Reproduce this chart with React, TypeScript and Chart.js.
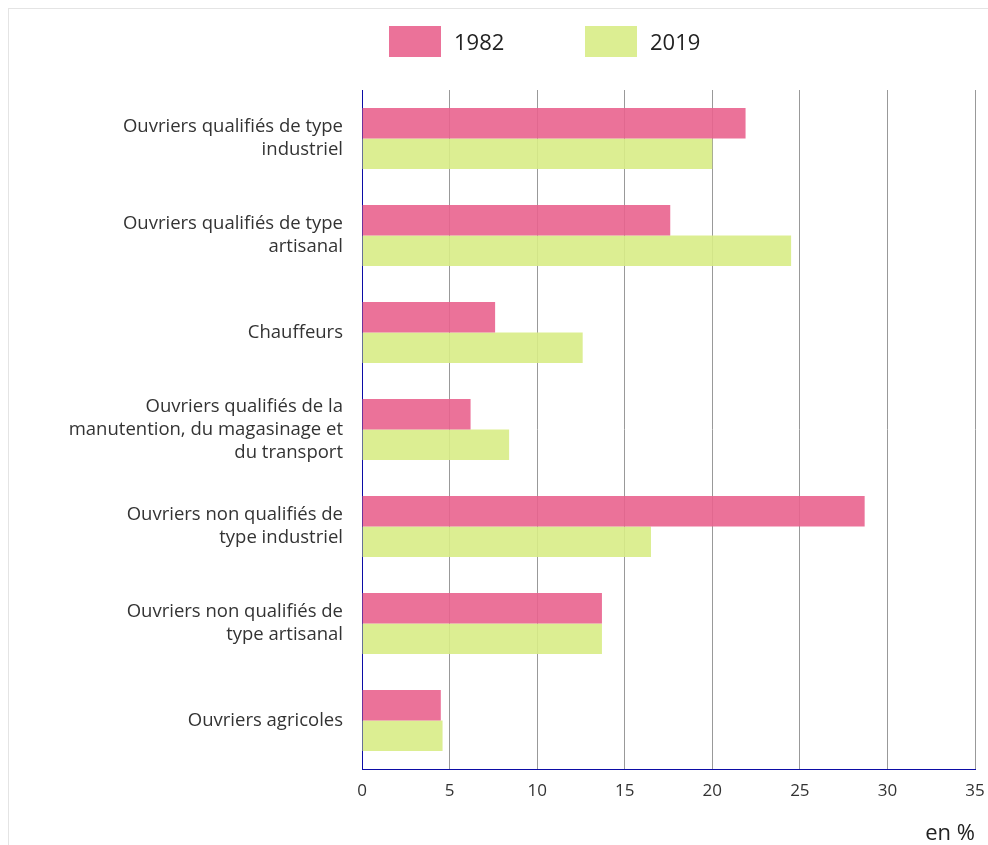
import React, { useEffect, useRef } from "react";
import { Chart, registerables } from "chart.js";

Chart.register(...registerables);

const categories: string[][] = [
  ["Ouvriers qualifiés de type", "industriel"],
  ["Ouvriers qualifiés de type", "artisanal"],
  ["Chauffeurs"],
  ["Ouvriers qualifiés de la", "manutention, du magasinage et", "du transport"],
  ["Ouvriers non qualifiés de", "type industriel"],
  ["Ouvriers non qualifiés de", "type artisanal"],
  ["Ouvriers agricoles"],
];
const values1982: number[] = [21.9, 17.6, 7.6, 6.2, 28.7, 13.7, 4.5];
const values2019: number[] = [20.0, 24.5, 12.6, 8.4, 16.5, 13.7, 4.6];
const seriesNames: string[] = ["1982", "2019"];
const xTicks: number[] = [0, 5, 10, 15, 20, 25, 30, 35];
const unitLabel = "en %";

const PINK = "rgba(233, 99, 142, 0.9)";
const GREEN = "rgba(216, 236, 134, 0.9)";
const AXIS_BLUE = "#0c0ca6";
const FONT = "'Open Sans', 'Noto Sans', sans-serif";

export default function App() {
  const ref = useRef<HTMLCanvasElement | null>(null);

  useEffect(() => {
    if (!ref.current) return;
    const chart = new Chart(ref.current, {
      type: "bar",
      data: {
        labels: categories,
        datasets: [
          {
            label: seriesNames[0],
            data: values1982,
            backgroundColor: PINK,
            borderWidth: 0,
            categoryPercentage: 0.63,
            barPercentage: 1.0,
          },
          {
            label: seriesNames[1],
            data: values2019,
            backgroundColor: GREEN,
            borderWidth: 0,
            categoryPercentage: 0.63,
            barPercentage: 1.0,
          },
        ],
      },
      options: {
        indexAxis: "y",
        responsive: false,
        animation: false,
        maintainAspectRatio: false,
        layout: { padding: { top: 90, right: 13, left: 0, bottom: 0 } },
        plugins: {
          legend: { display: false },
          tooltip: { enabled: false },
        },
        scales: {
          x: {
            min: 0,
            max: 35,
            afterBuildTicks: (axis: any) => {
              axis.ticks = xTicks.map((v) => ({ value: v }));
            },
            afterFit: (axis: any) => {
              axis.height = 76;
              axis.paddingLeft = 0;
              axis.paddingRight = 0;
            },
            grid: {
              display: true,
              drawTicks: false,
              color: (ctx: any) =>
                ctx.tick && ctx.tick.value === 0 ? "rgba(0,0,0,0)" : "#999999",
              lineWidth: 1,
            },
            border: { display: true, color: AXIS_BLUE, width: 1 },
            ticks: {
              padding: 12,
              color: "#333333",
              font: { family: FONT, size: 17 },
              maxRotation: 0,
            },
            title: {
              display: true,
              text: unitLabel,
              align: "end",
              color: "#222222",
              font: { family: FONT, size: 22 },
              padding: { top: 4, bottom: -2 },
            },
          },
          y: {
            afterFit: (axis: any) => {
              axis.width = 362;
            },
            grid: { display: false, drawTicks: false },
            border: { display: true, color: AXIS_BLUE, width: 1 },
            ticks: {
              padding: 19,
              color: "#333333",
              font: { family: FONT, size: 18.5, lineHeight: 1.25 },
            },
          },
        },
      },
    } as any);
    return () => chart.destroy();
  }, []);

  const legendItem = (left: number, color: string, text: string) => (
    <div
      style={{
        position: "absolute",
        left,
        top: 26,
        height: 31,
        display: "flex",
        alignItems: "center",
      }}
    >
      <div style={{ width: 52, height: 31, background: color }} />
      <span
        style={{
          marginLeft: 13,
          fontFamily: FONT,
          fontSize: 22,
          color: "#222222",
          lineHeight: "31px",
          whiteSpace: "nowrap",
        }}
      >
        {text}
      </span>
    </div>
  );

  return (
    <div
      style={{
        position: "absolute",
        left: 0,
        top: 0,
        width: 988,
        height: 845,
        overflow: "hidden",
        background: "#ffffff",
      }}
    >
      <div
        style={{
          position: "absolute",
          left: 8,
          top: 8,
          width: 1000,
          height: 900,
          borderTop: "1px solid #e4e4e4",
          borderLeft: "1px solid #e4e4e4",
        }}
      />
      <canvas
        ref={ref}
        width={988}
        height={845}
        style={{ position: "absolute", left: 0, top: 0, width: 988, height: 845 }}
      />
      {legendItem(389, PINK, seriesNames[0])}
      {legendItem(585, GREEN, seriesNames[1])}
    </div>
  );
}
